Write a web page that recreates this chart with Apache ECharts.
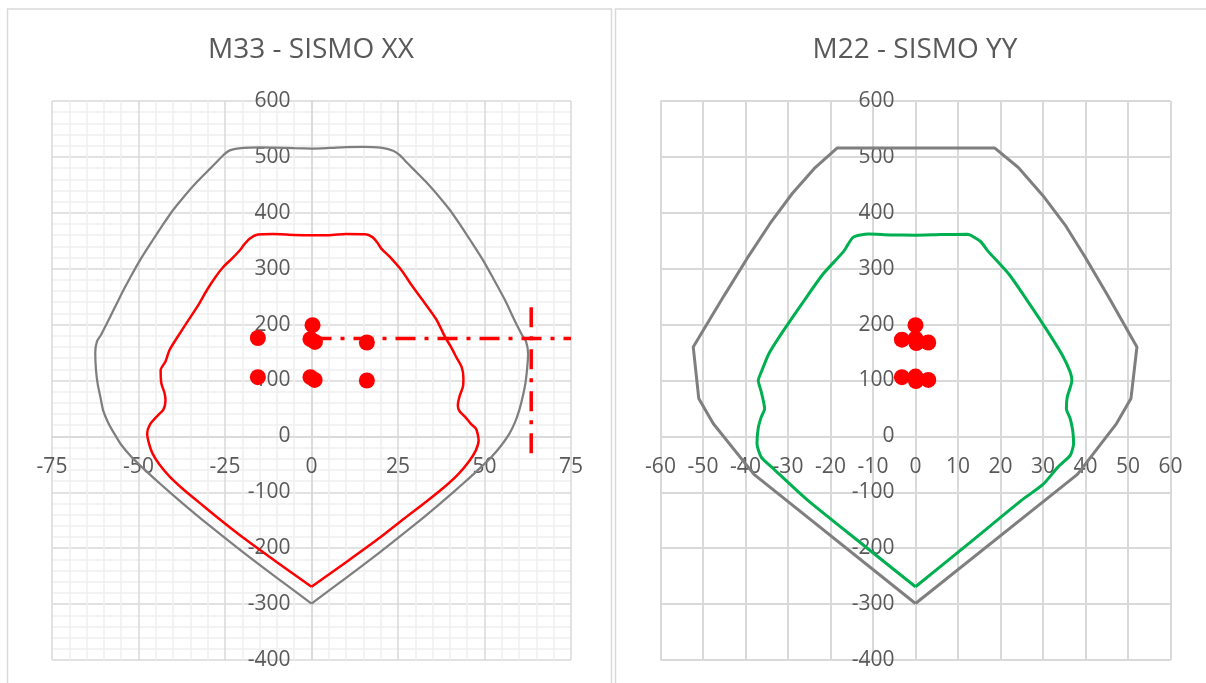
<!DOCTYPE html>
<html>
<head>
<meta charset="utf-8">
<script src="https://cdn.jsdelivr.net/npm/echarts@6/dist/echarts.min.js"></script>
<style>
html,body{margin:0;padding:0;background:#fff;}
#c{width:1206px;height:683px;}
</style>
</head>
<body>
<div id="c"></div>
<script>
// ---------- DATA ----------
const titles = ["M33 - SISMO XX", "M22 - SISMO YY"];

// M33 nominal interaction curve (gray)
const m33Nominal = [[0,-299],[10,-253],[20,-206],[30,-157],[37,-121],[41.5,-97],[45.5,-75],[49,-55],[52,-37],[55,-15],[57.2,5],[58.8,25],[60,46],[61,70],[61.8,94],[62.3,120],[62.6,148],[62,170],[60.8,182],[58.5,210],[56,243],[52.5,283],[49.6,315],[46,350],[42.8,380],[40,405],[37,428],[33,456],[29.3,479],[27.4,491],[25.5,503],[23.6,511],[20,516.5],[15,518],[10,517.5],[5,516],[0,515],[-5,515.5],[-10,516.5],[-15,517],[-19.7,516],[-23.6,511.6],[-25.5,503],[-27.4,491],[-29.3,479],[-33,456],[-37,428],[-40,405],[-42.8,380],[-46,350],[-49.6,315],[-52.5,283],[-54.4,261],[-56.5,235],[-58.5,210],[-60.8,182],[-62,170],[-62.5,150],[-62.3,120],[-61.8,94],[-61,70],[-60.2,46],[-58.8,25],[-57,5],[-55,-15],[-52,-37],[-49,-55],[-45.5,-75],[-41.5,-97],[-37,-121],[-30,-157],[-20,-206],[-10,-253],[0,-299]];

// M33 design interaction curve (red)
const m33Design = [[0,-269],[10,-225],[20,-180],[27,-146],[33.5,-115],[38.5,-90],[42.5,-67],[45.5,-45],[47.5,-25],[48.3,-7],[48,5],[47.5,14],[46,23],[44.4,35],[42.8,45],[42.3,55],[42.8,72],[43.8,90],[43.9,105],[43.4,124],[42,140],[40.5,158],[38.6,178],[36,210],[32.2,243],[29,270],[25.9,298],[22.5,322],[20.3,335],[19,347],[17.5,357],[15.5,361.5],[10,362],[5,360],[0,360],[-5,360.5],[-11.3,362],[-15.5,361],[-17.8,354],[-19.5,343],[-20.7,333],[-23,318],[-25.5,303],[-28,283],[-30.3,261],[-33,232],[-36,204],[-38.5,180],[-41,155],[-42.2,134],[-43.6,118.6],[-43.4,95],[-42.5,78],[-42.2,64],[-42.8,48],[-44.5,37],[-46.7,21],[-47.5,5],[-47,-12],[-46,-30],[-44,-50],[-41,-72],[-37,-95],[-32.5,-118],[-27,-146],[-20,-180],[-10,-225],[0,-269]];

// M33 demand points
const m33Demand = [[-15.5,176],[-15.5,106],[0.3,199],[-0.3,174],[1,169],[-0.3,106],[0.9,101],[16,168],[16,100]];

// M33 reference dash-dot lines
const m33CutH = [[0,175],[75,175]];
const m33CutV = [[63.5,231],[63.5,-35]];

// M22 nominal interaction curve (gray)
const m22Nominal = [[0,-299],[-38,-68],[-47.6,23],[-51,68],[-52.3,160],[-45.1,251],[-39.7,317.5],[-34.3,380],[-29,434.5],[-23.6,481],[-18.4,516],[18.6,516],[24.2,481],[30,430.6],[35.4,376],[39.9,321],[45.3,251],[52.1,160],[50.7,68],[47.3,23],[38.1,-68],[0,-299]];

// M22 design interaction curve (green)
const m22Design = [[0,-269],[12,-195],[25,-114],[30,-86],[33.5,-55],[36.4,-34],[37.2,-13],[37,10],[36.4,31.6],[35.5,49.5],[35.7,70],[36.8,100],[36.4,115],[34.5,146],[30.5,195],[26.3,243],[22,290],[17.1,331],[15.3,348.7],[12.2,361.5],[6,361],[0,360],[-6,360.5],[-11.1,362],[-14.7,356],[-16.9,331],[-21.8,290],[-26.2,243],[-31,190],[-34.5,148],[-36.3,115],[-37,100],[-36.3,80],[-35.5,49.5],[-36.3,34.5],[-37,15],[-37.3,-13],[-36.3,-37],[-33.4,-58],[-25.4,-114],[-12,-196],[0,-269]];

// M22 demand points
const m22Demand = [[-3.2,173],[-3.2,106],[0,199],[0,175],[0.2,167],[0,107],[0.1,99],[3,168],[3,101]];

// axis ranges
const m33X = {min:-75, max:75, step:25};
const m22X = {min:-60, max:60, step:10};
const yRange = {min:-400, max:600, step:100};

// ---------- CHART ----------
const TXT = '#595959';
const FONT = '"Open Sans", "Liberation Sans", sans-serif';
const grids = [
  {left: 52, top: 101, width: 519, height: 559},
  {left: 660.5, top: 101, width: 510, height: 559}
];
const chart = echarts.init(document.getElementById('c'), null, {renderer:'canvas'});

// offsets that place each axis on the other axis' zero
function xOffset(g) { // x axis at y = 0
  const frac = (yRange.max - 0) / (yRange.max - yRange.min);
  return -(g.height - g.height * frac);
}
function yOffset(g, r) { // y axis at x = 0
  const frac = (0 - r.min) / (r.max - r.min);
  return -(g.width * frac);
}

function xAxis(idx, r, minor) {
  return {
    gridIndex: idx, type: 'value', min: r.min, max: r.max, interval: r.step,
    position: 'bottom', offset: xOffset(grids[idx]),
    axisLine: {show: true, onZero: false, lineStyle: {color: '#d9d9d9', width: 1.5}},
    axisTick: {show: false},
    axisLabel: {color: TXT, fontSize: 21, fontFamily: FONT, margin: 20, hideOverlap: false},
    splitLine: {show: true, lineStyle: {color: '#d9d9d9', width: minor ? 1.5 : 2}},
    minorTick: {show: false, splitNumber: 5},
    minorSplitLine: {show: minor, lineStyle: {color: '#f0f0f0', width: 1.5}}
  };
}
function yAxis(idx, r, minor) {
  return {
    gridIndex: idx, type: 'value', min: yRange.min, max: yRange.max, interval: yRange.step,
    position: 'left', offset: yOffset(grids[idx], r),
    axisLine: {show: true, onZero: false, lineStyle: {color: '#d9d9d9', width: 1.5}},
    axisTick: {show: false},
    axisLabel: {color: TXT, fontSize: 21, fontFamily: FONT, margin: 21, hideOverlap: false},
    splitLine: {show: true, lineStyle: {color: '#d9d9d9', width: minor ? 1.5 : 2}},
    minorTick: {show: false, splitNumber: 5},
    minorSplitLine: {show: minor, lineStyle: {color: '#f0f0f0', width: 1.5}}
  };
}
function curve(idx, data, color, width, smooth) {
  return {type: 'line', xAxisIndex: idx, yAxisIndex: idx, data: data, showSymbol: false, symbol: 'none',
    smooth: smooth, lineStyle: {color: color, width: width}, silent: true, z: 3};
}
function dots(idx, data) {
  return {type: 'scatter', xAxisIndex: idx, yAxisIndex: idx, data: data, symbol: 'circle', symbolSize: 16,
    itemStyle: {color: '#ff0000', opacity: 1}, z: 5, silent: true};
}
function cut(idx, data) {
  return {type: 'line', xAxisIndex: idx, yAxisIndex: idx, data: data, showSymbol: false, symbol: 'none',
    lineStyle: {color: '#ff0000', width: 3.5, type: [20, 9, 4, 9]}, z: 4, silent: true};
}

chart.setOption({
  animation: false,
  backgroundColor: '#ffffff',
  graphic: [
    {type: 'rect', shape: {x: 7.5, y: 9, width: 604, height: 720}, style: {fill: 'none', stroke: '#d9d9d9', lineWidth: 1.5}, z: 0},
    {type: 'rect', shape: {x: 615.5, y: 9, width: 640, height: 720}, style: {fill: 'none', stroke: '#d9d9d9', lineWidth: 1.5}, z: 0},
    {type: 'text', x: 311, y: 50, style: {text: titles[0], fill: TXT, fontSize: 28, fontFamily: FONT, align: 'center', verticalAlign: 'middle'}},
    {type: 'text', x: 915, y: 50, style: {text: titles[1], fill: TXT, fontSize: 28, fontFamily: FONT, align: 'center', verticalAlign: 'middle'}}
  ],
  grid: grids.map(g => Object.assign({containLabel: false, outerBoundsMode: 'none'}, g)),
  xAxis: [xAxis(0, m33X, true), xAxis(1, m22X, false)],
  yAxis: [yAxis(0, m33X, true), yAxis(1, m22X, false)],
  series: [
    curve(0, m33Nominal, '#7f7f7f', 2.25, 0.25),
    curve(0, m33Design, '#ff0000', 2.5, 0.25),
    cut(0, m33CutH),
    cut(0, m33CutV),
    dots(0, m33Demand),
    curve(1, m22Nominal, '#7f7f7f', 3, false),
    curve(1, m22Design, '#00b050', 3, 0.2),
    dots(1, m22Demand)
  ]
});
</script>
</body>
</html>
